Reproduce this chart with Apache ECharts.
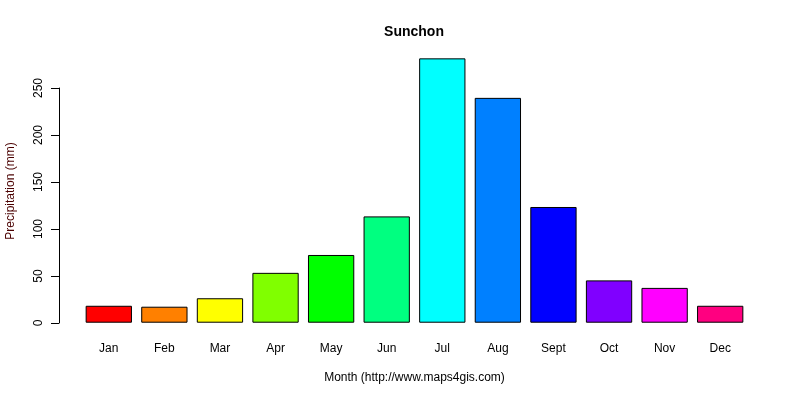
<!DOCTYPE html>
<html>
<head>
<meta charset="utf-8">
<script src="https://cdn.jsdelivr.net/npm/echarts@6/dist/echarts.min.js"></script>
<style>html,body{margin:0;padding:0;background:#fff}#c{width:800px;height:400px}</style>
</head>
<body>
<div id="c"></div>
<script>
const months = ['Jan','Feb','Mar','Apr','May','Jun','Jul','Aug','Sept','Oct','Nov','Dec'];
const precipitation = [18, 17, 26, 53, 72, 113, 281, 239, 123, 45, 37, 18];
const barColors = ['#FF0000','#FF8000','#FFFF00','#80FF00','#00FF00','#00FF80','#00FFFF','#0080FF','#0000FF','#8000FF','#FF00FF','#FF0080'];
const yTicks = [0, 50, 100, 150, 200, 250];

const font = 'Liberation Sans, Arial, sans-serif';
const chart = echarts.init(document.getElementById('c'), null, {renderer: 'canvas'});
chart.setOption({
  animation: false,
  backgroundColor: '#ffffff',
  title: {
    text: 'Sunchon',
    left: 409, top: 20, textAlign: 'center',
    textStyle: {fontFamily: font, fontSize: 14, fontWeight: 'bold', color: '#000'}
  },
  grid: [
    {left: 81, right: 52, top: 48, bottom: 66, outerBoundsMode: 'none', containLabel: false},
    {left: 59, right: 52, top: 88, bottom: 77, outerBoundsMode: 'none', containLabel: false}
  ],
  xAxis: [
    {
      type: 'category', gridIndex: 0, data: months,
      axisLine: {show: false}, axisTick: {show: false},
      axisLabel: {margin: 9, fontFamily: font, fontSize: 12, color: '#000'},
      name: 'Month (http://www.maps4gis.com)', nameLocation: 'middle', nameGap: 38,
      nameTextStyle: {fontFamily: font, fontSize: 12, color: '#000'}
    },
    {type: 'category', gridIndex: 1, data: months, show: false}
  ],
  yAxis: [
    {
      type: 'value', gridIndex: 0, min: -12, max: 292,
      axisLine: {show: false}, axisTick: {show: false}, axisLabel: {show: false},
      splitLine: {show: false},
      name: 'Precipitation (mm)', nameLocation: 'middle', nameGap: 64,
      nameTextStyle: {fontFamily: font, fontSize: 12, color: '#4a0000'}
    },
    {
      type: 'value', gridIndex: 1, min: yTicks[0], max: yTicks[yTicks.length - 1], interval: 50,
      axisLine: {show: true, lineStyle: {color: '#000', width: 1}},
      axisTick: {show: true, length: 8, lineStyle: {color: '#000'}},
      axisLabel: {rotate: 90, margin: 14, fontFamily: font, fontSize: 12, color: '#000'},
      splitLine: {show: false}
    }
  ],
  series: [{
    type: 'bar', xAxisIndex: 0, yAxisIndex: 0,
    data: precipitation.map((v, i) => ({value: v, itemStyle: {color: barColors[i]}})),
    barCategoryGap: '16.7%',
    itemStyle: {borderColor: '#000', borderWidth: 1}
  }]
});
</script>
</body>
</html>
